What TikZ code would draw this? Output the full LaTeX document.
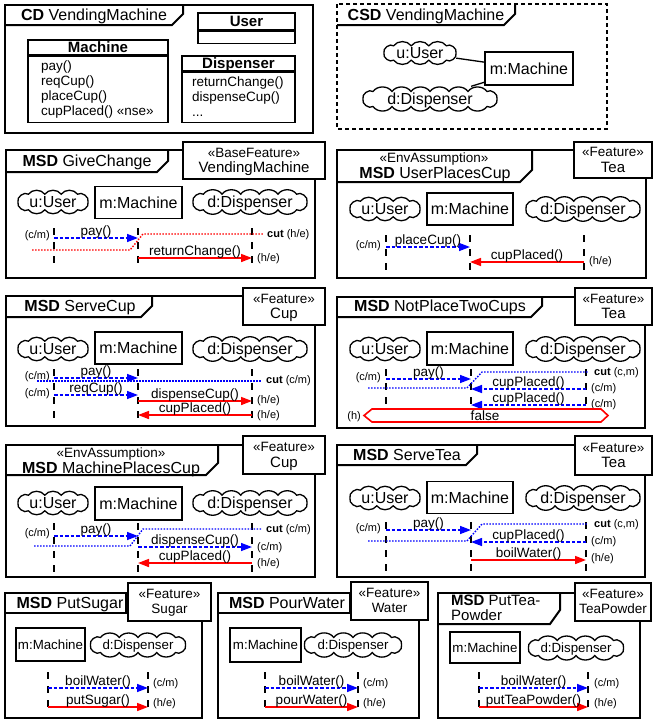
\documentclass[tikz,border=0pt]{standalone}
\usepackage{fontspec}
\setmainfont{Liberation Sans}
\usetikzlibrary{arrows.meta}

\tikzset{
  frm/.style={line width=2pt},
  featbox/.style={draw, line width=2.6pt, fill=white, inner sep=0pt},
  clsbox/.style={draw, line width=1.6pt, inner sep=0pt},
  objbox/.style={draw, line width=1.4pt, inner sep=0pt},
  cloudline/.style={line width=1.3pt},
  tbig/.style={font=\fontsize{16}{18}\selectfont, inner sep=0pt, text height=11.5pt, text depth=0pt},
  tcls/.style={font=\fontsize{15}{17}\selectfont\bfseries, inner sep=0pt, text height=10.8pt, text depth=0pt},
  tfeat/.style={font=\fontsize{15}{17}\selectfont, inner sep=0pt, text height=10.8pt, text depth=0pt},
  tmid/.style={font=\fontsize{13.5}{15}\selectfont, inner sep=0pt, text height=9.7pt, text depth=0pt},
  thead/.style={font=\fontsize{13.3}{15}\selectfont, inner sep=0pt, text height=9.5pt, text depth=0pt},
  tsml/.style={font=\fontsize{11}{12}\selectfont, inner sep=0pt, text height=7.9pt, text depth=0pt},
  life/.style={line width=1.4pt, dash pattern=on 7pt off 7pt},
  msgtip/.style={-{Triangle[length=11pt,width=8pt]}},
  cmsg/.style={blue, line width=1.4pt, dash pattern=on 3.5pt off 2pt, msgtip},
  hmsg/.style={red, line width=1.6pt, msgtip},
  bcut/.style={blue, line width=1.4pt, dash pattern=on 1.5pt off 1.5pt},
  rcut/.style={red, line width=1.4pt, dash pattern=on 1.5pt off 1.5pt},
  mlab/.style={tmid, text=black, pos=0.5, yshift=7pt},
}

% cloud-shaped lifeline head: name, x, y, width, height, bumps per side, text, text style
\newcommand\cloudhead[8]{%
  \node[inner sep=0pt, minimum width=#4pt, minimum height=#5pt] (#1) at (#2,#3) {};
  \pgfmathsetmacro\cxl{#2-#4/2}\pgfmathsetmacro\cxr{#2+#4/2}%
  \pgfmathsetmacro\cxa{#2-#4/2+#5*0.4}\pgfmathsetmacro\cst{(#4-#5*0.8)/#6}%
  \pgfmathsetmacro\cyt{#3-#5*0.3}\pgfmathsetmacro\cyb{#3+#5*0.3}%
  \draw[cloudline] (\cxl,#3) to[bend left=75] (\cxa,\cyt)
    \foreach \k in {1,...,#6} { to[bend left=55] ({\cxa+\k*\cst},\cyt) }
    to[bend left=75] (\cxr,#3) to[bend left=75] ({\cxa+#6*\cst},\cyb)
    \foreach \k in {1,...,#6} { to[bend left=55] ({\cxa+(#6-\k)*\cst},\cyb) }
    to[bend left=75] (\cxl,#3);
  \node[#8] (#1-txt) at (#1.center) {#7};}
% rectangular lifeline head: name, x, y, width, height, text, text style
\newcommand\boxobj[7]{%
  \node[objbox, #7, minimum width=#4pt, minimum height=#5pt] (#1) at (#2,#3) {#6};}
% lifeline: name, x, top y, bottom y
\newcommand\lifeln[4]{%
  \coordinate (#1-top) at (#2,#3); \coordinate (#1-bot) at (#2,#4);
  \draw[life] (#1-top) -- (#1-bot);}
% message: style, name, x from, x to, y, label
\newcommand\msgline[6]{%
  \coordinate (#2-s) at (#3,#5); \coordinate (#2-e) at (#4,#5);
  \draw[#1] (#2-s) -- (#2-e) node[mlab] (#2-lab) {#6};}
% feature box: name, cx, cy, width, height, stereotype, feature, feature style
\newcommand\featurebox[8]{%
  \node[featbox, minimum width=#4pt, minimum height=#5pt] (#1) at (#2,#3) {};
  \node[tmid] (#1-st) at ({#2},{#3-8}) {#6};
  \node[#8] (#1-nm) at ({#2},{#3+7}) {#7};}

\begin{document}
\begin{tikzpicture}[x=1pt,y=-1pt]
\useasboundingbox (0,0) rectangle (653,720);
\fill[white] (0,0) rectangle (653,720);

% ---------------- class diagram ----------------
\draw[frm] (5,5) rectangle (313,133);
\draw[frm] (5,25) -- (172,25) -- (183,14) -- (183,5);
\node[tbig] (cd-title) at (94,15) {\textbf{CD} VendingMachine};
\node[clsbox, tcls, minimum width=97pt, minimum height=17pt] (user-h) at (246.5,21.5) {User};
\node[clsbox, minimum width=97pt, minimum height=12pt, anchor=north] (user-b) at (user-h.south) {};
\node[clsbox, tcls, minimum width=140pt, minimum height=15pt] (mach-h) at (98,47.5) {Machine};
\node[clsbox, minimum width=140pt, minimum height=66pt, anchor=north] (mach-b) at (mach-h.south) {};
\node[clsbox, tcls, minimum width=113pt, minimum height=15pt] (disp-h) at (238.5,63.5) {Dispenser};
\node[clsbox, minimum width=113pt, minimum height=50pt, anchor=north] (disp-b) at (disp-h.south) {};
\node[tmid, anchor=base west] (mm1) at (41,70) {pay()};
\node[tmid, anchor=base west] (mm2) at (41,85) {reqCup()};
\node[tmid, anchor=base west] (mm3) at (41,100) {placeCup()};
\node[tmid, anchor=base west] (mm4) at (41,115) {cupPlaced() «nse»};
\node[tmid, anchor=base west] (dm1) at (192,86) {returnChange()};
\node[tmid, anchor=base west] (dm2) at (192,101) {dispenseCup()};
\node[tmid, anchor=base west] (dm3) at (192,116) {...};

% ---------------- composite structure ----------------
\draw[frm, dash pattern=on 4pt off 3pt] (337,4) rectangle (607,129);
\draw[frm] (337,25) -- (504,25) -- (515,14) -- (515,4);
\node[tbig] (csd-title) at (426,15) {\textbf{CSD} VendingMachine};
\cloudhead{cs-u}{420}{53}{72}{24}{3}{u:User}{tbig}
\boxobj{cs-m}{529}{68.5}{88}{33}{m:Machine}{tbig}
\cloudhead{cs-d}{430}{99}{134}{25}{6}{d:Dispenser}{tbig}
\draw[line width=1.3pt] (cs-u) -- (cs-m);
\draw[line width=1.3pt] (cs-d) -- (cs-m);

% ---------------- MSD GiveChange ----------------
\draw[frm] (6,150) rectangle (315,278);
\draw[frm] (6,172) -- (157,172) -- (168,161) -- (168,150);
\node[tbig] (gc-title) at (87,161) {\textbf{MSD} GiveChange};
\featurebox{gc-f}{254}{160.5}{142}{37}{«BaseFeature»}{VendingMachine}{tfeat}
\cloudhead{gc-u}{53}{202}{70}{26}{3}{u:User}{tbig}
\boxobj{gc-m}{138.5}{202.5}{87}{32}{m:Machine}{tbig}
\cloudhead{gc-d}{250}{202}{114}{26}{5}{d:Dispenser}{tbig}
\lifeln{gc-lu}{54}{228}{268}
\lifeln{gc-lm}{138}{228}{268}
\lifeln{gc-ld}{252}{228}{268}
\msgline{cmsg}{gc-pay}{54}{138}{238}{pay()}
\node[tsml, anchor=east] (gc-k1) at (50,235) {(c/m)};
\draw[rcut] (32,250) -- (130,250) -- (143,234) -- (263,234);
\node[tsml, anchor=west] (gc-cut) at (267,234) {\textbf{cut} (h/e)};
\msgline{hmsg}{gc-rc}{138}{252}{258}{returnChange()}
\node[tsml, anchor=west] (gc-k2) at (257,258) {(h/e)};

% ---------------- MSD UserPlacesCup ----------------
\draw[frm] (337,150) rectangle (646,278);
\draw[frm] (337,182) -- (520,182) -- (532,170) -- (532,150);
\node[tmid] (up-st) at (434,158) {«EnvAssumption»};
\node[tbig] (up-title) at (435,173) {\textbf{MSD} UserPlacesCup};
\featurebox{up-f}{613}{160}{78}{36}{«Feature»}{Tea}{tfeat}
\cloudhead{up-u}{385}{209}{70}{26}{3}{u:User}{tbig}
\boxobj{up-m}{470}{209}{86}{32}{m:Machine}{tbig}
\cloudhead{up-d}{583}{209}{114}{26}{5}{d:Dispenser}{tbig}
\lifeln{up-lu}{386}{235}{275}
\lifeln{up-lm}{470}{235}{275}
\lifeln{up-ld}{584}{235}{275}
\msgline{cmsg}{up-pc}{386}{470}{247}{placeCup()}
\node[tsml, anchor=east] (up-k1) at (381,245) {(c/m)};
\msgline{hmsg}{up-cp}{584}{470}{262}{cupPlaced()}
\node[tsml, anchor=west] (up-k2) at (589,261) {(h/e)};

% ---------------- MSD ServeCup ----------------
\draw[frm] (6,296) rectangle (315,426);
\draw[frm] (6,317) -- (141,317) -- (152,306) -- (152,296);
\node[tbig] (sc-title) at (80,306) {\textbf{MSD} ServeCup};
\featurebox{sc-f}{284}{306.5}{82}{37}{«Feature»}{Cup}{tfeat}
\cloudhead{sc-u}{53}{349}{70}{26}{3}{u:User}{tbig}
\boxobj{sc-m}{138.5}{348}{87}{32}{m:Machine}{tbig}
\cloudhead{sc-d}{250}{349}{114}{26}{5}{d:Dispenser}{tbig}
\lifeln{sc-lu}{54}{369}{421}
\lifeln{sc-lm}{138}{369}{421}
\lifeln{sc-ld}{252}{369}{421}
\msgline{cmsg}{sc-pay}{54}{138}{378}{pay()}
\node[tsml, anchor=east] (sc-k1) at (50,376) {(c/m)};
\draw[bcut] (37,381) -- (262,381);
\node[tsml, anchor=west] (sc-cut) at (266,380) {\textbf{cut} (c/m)};
\msgline{cmsg}{sc-rq}{54}{138}{395}{reqCup()}
\node[tsml, anchor=east] (sc-k2) at (50,393) {(c/m)};
\msgline{hmsg}{sc-dc}{138}{252}{401}{dispenseCup()}
\node[tsml, anchor=west] (sc-k3) at (257,400) {(h/e)};
\msgline{hmsg}{sc-cp}{252}{138}{415}{cupPlaced()}
\node[tsml, anchor=west] (sc-k4) at (257,415) {(h/e)};

% ---------------- MSD NotPlaceTwoCups ----------------
\draw[frm] (337,297) rectangle (645,428);
\draw[frm] (337,317) -- (531,317) -- (542,306) -- (542,297);
\node[tbig] (np-title) at (440,306) {\textbf{MSD} NotPlaceTwoCups};
\featurebox{np-f}{613.5}{306.5}{77}{37}{«Feature»}{Tea}{tfeat}
\cloudhead{np-u}{385}{349}{70}{26}{3}{u:User}{tbig}
\boxobj{np-m}{470}{348.5}{86}{33}{m:Machine}{tbig}
\cloudhead{np-d}{583}{349}{114}{26}{5}{d:Dispenser}{tbig}
\lifeln{np-lu}{386}{369}{410}
\lifeln{np-lm}{471}{369}{410}
\lifeln{np-ld}{586}{369}{410}
\msgline{cmsg}{np-pay}{386}{471}{379}{pay()}
\node[tsml, anchor=east] (np-k1) at (381,377) {(c/m)};
\draw[bcut] (368,388) -- (467,388) -- (482,372) -- (588,372);
\node[tsml, anchor=west] (np-cut) at (594,372) {\textbf{cut} (c,m)};
\msgline{cmsg}{np-cp1}{586}{471}{389}{cupPlaced()}
\node[tsml, anchor=west] (np-k2) at (591,388) {(c/m)};
\msgline{cmsg}{np-cp2}{586}{471}{405}{cupPlaced()}
\node[tsml, anchor=west] (np-k3) at (591,404) {(c/m)};
\draw[red, line width=1.6pt] (364,415.5) -- (372,409) -- (601,409) -- (608,415.5) -- (601,422) -- (372,422) -- cycle;
\node[tmid] (np-false) at (485,415.5) {false};
\node[tsml, anchor=east] (np-k4) at (361,416) {(h)};

% ---------------- MSD MachinePlacesCup ----------------
\draw[frm] (6,445) rectangle (315,577);
\draw[frm] (6,475) -- (206,475) -- (218,463) -- (218,445);
\node[tmid] (mp-st) at (111,453) {«EnvAssumption»};
\node[tbig] (mp-title) at (111,468) {\textbf{MSD} MachinePlacesCup};
\featurebox{mp-f}{284}{455}{82}{38}{«Feature»}{Cup}{tfeat}
\cloudhead{mp-u}{53}{503}{70}{26}{3}{u:User}{tbig}
\boxobj{mp-m}{138.5}{503.5}{87}{33}{m:Machine}{tbig}
\cloudhead{mp-d}{250}{503}{114}{26}{5}{d:Dispenser}{tbig}
\lifeln{mp-lu}{54}{523}{572}
\lifeln{mp-lm}{138}{523}{572}
\lifeln{mp-ld}{252}{523}{572}
\msgline{cmsg}{mp-pay}{54}{138}{536}{pay()}
\node[tsml, anchor=east] (mp-k1) at (50,533) {(c/m)};
\draw[bcut] (34,546) -- (130,546) -- (143,529) -- (262,529);
\node[tsml, anchor=west] (mp-cut) at (266,529) {\textbf{cut} (c/m)};
\msgline{cmsg}{mp-dc}{138}{252}{547}{dispenseCup()}
\node[tsml, anchor=west] (mp-k2) at (257,547) {(c/m)};
\msgline{hmsg}{mp-cp}{252}{138}{563}{cupPlaced()}
\node[tsml, anchor=west] (mp-k3) at (257,563) {(h/e)};

% ---------------- MSD ServeTea ----------------
\draw[frm] (337,445) rectangle (645,577);
\draw[frm] (337,465) -- (466,465) -- (477,454) -- (477,445);
\node[tbig] (st-title) at (407,455) {\textbf{MSD} ServeTea};
\featurebox{st-f}{613.5}{455.5}{77}{39}{«Feature»}{Tea}{tfeat}
\cloudhead{st-u}{385}{498}{70}{26}{3}{u:User}{tbig}
\boxobj{st-m}{470}{497.5}{86}{32}{m:Machine}{tbig}
\cloudhead{st-d}{583}{498}{114}{26}{5}{d:Dispenser}{tbig}
\lifeln{st-lu}{386}{522}{572}
\lifeln{st-lm}{471}{522}{572}
\lifeln{st-ld}{586}{522}{572}
\msgline{cmsg}{st-pay}{386}{471}{530}{pay()}
\node[tsml, anchor=east] (st-k1) at (381,528) {(c/m)};
\draw[bcut] (368,541) -- (467,541) -- (482,524) -- (588,524);
\node[tsml, anchor=west] (st-cut) at (594,524) {\textbf{cut} (c,m)};
\msgline{cmsg}{st-cp}{586}{471}{542}{cupPlaced()}
\node[tsml, anchor=west] (st-k2) at (591,541) {(c/m)};
\msgline{hmsg}{st-bw}{471}{586}{560}{boilWater()}
\node[tsml, anchor=west] (st-k3) at (591,558) {(h/e)};

% ---------------- MSD PutSugar ----------------
\draw[frm] (5,593) rectangle (202,718);
\draw[frm] (5,613) -- (126,613) -- (126,593);
\node[tbig] (ps-title) at (70,603) {\textbf{MSD} PutSugar};
\featurebox{ps-f}{169.5}{602}{83}{38}{«Feature»}{Sugar}{tmid}
\boxobj{ps-m}{50.5}{644.5}{69}{33}{m:Machine}{thead}
\cloudhead{ps-d}{138}{645}{95}{25}{4}{d:Dispenser}{thead}
\lifeln{ps-lm}{48}{672}{712}
\lifeln{ps-ld}{148}{672}{712}
\msgline{cmsg}{ps-bw}{48}{148}{688}{boilWater()}
\node[tsml, anchor=west] (ps-k1) at (153,683) {(c/m)};
\msgline{hmsg}{ps-su}{48}{148}{707}{putSugar()}
\node[tsml, anchor=west] (ps-k2) at (153,703) {(h/e)};

% ---------------- MSD PourWater ----------------
\draw[frm] (218,593) rectangle (419,718);
\draw[frm] (218,613) -- (350,613) -- (350,593);
\node[tbig] (pw-title) at (287,603) {\textbf{MSD} PourWater};
\featurebox{pw-f}{389.5}{601}{77}{38}{«Feature»}{Water}{tmid}
\boxobj{pw-m}{265.5}{645}{71}{34}{m:Machine}{thead}
\cloudhead{pw-d}{353}{645}{97}{25}{4}{d:Dispenser}{thead}
\lifeln{pw-lm}{265}{672}{712}
\lifeln{pw-ld}{358}{672}{712}
\msgline{cmsg}{pw-bw}{265}{358}{688}{boilWater()}
\node[tsml, anchor=west] (pw-k1) at (363,683) {(c/m)};
\msgline{hmsg}{pw-pw}{265}{358}{707}{pourWater()}
\node[tsml, anchor=west] (pw-k2) at (363,703) {(h/e)};

% ---------------- MSD PutTeaPowder ----------------
\draw[frm] (438,593) rectangle (640,718);
\draw[frm] (438,624) -- (550,624) -- (560,610) -- (560,593);
\node[font=\fontsize{15}{15}\selectfont, inner sep=0pt, align=left, anchor=north west] (pt-title) at (451,594.5) {\textbf{MSD} PutTea-\\Powder};
\featurebox{pt-f}{613}{602}{76}{38}{«Feature»}{TeaPowder}{tmid}
\boxobj{pt-m}{485}{647.5}{70}{31}{m:Machine}{thead}
\cloudhead{pt-d}{576}{648}{95}{25}{4}{d:Dispenser}{thead}
\lifeln{pt-lm}{479}{672}{712}
\lifeln{pt-ld}{588}{672}{712}
\msgline{cmsg}{pt-bw}{479}{588}{688}{boilWater()}
\node[tsml, anchor=west] (pt-k1) at (594,683) {(c/m)};
\msgline{hmsg}{pt-tp}{479}{588}{707}{putTeaPowder()}
\node[tsml, anchor=west] (pt-k2) at (594,703) {(h/e)};

\end{tikzpicture}
\end{document}
